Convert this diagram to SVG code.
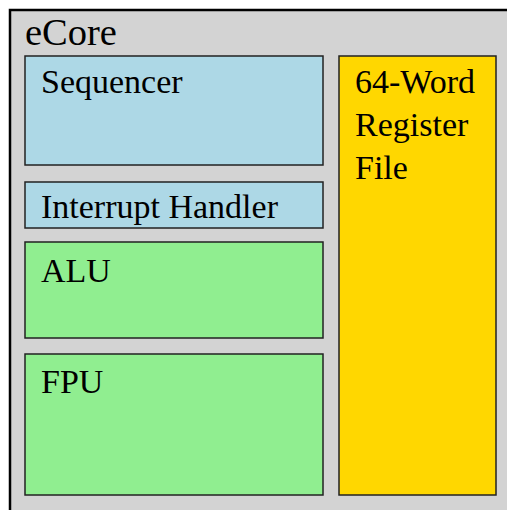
<svg xmlns="http://www.w3.org/2000/svg" width="507" height="510" viewBox="0 0 507 510">
<style>
  .box { stroke: #222; stroke-width: 1.5; }
  .t { font-family: "Liberation Serif", "Times New Roman", serif; font-size: 34px; fill: #000; }
</style>
<rect width="507" height="510" fill="#fff"/>
<g id="ecore">
  <rect x="10" y="10" width="510" height="520" fill="#d3d3d3" stroke="#000" stroke-width="2.5"/>
  <text class="t" x="25" y="45" style="font-size:38.5px">eCore</text>
</g>
<g id="sequencer">
  <rect class="box" x="25" y="56" width="298" height="109" fill="#add8e6"/>
  <text class="t" x="41" y="93">Sequencer</text>
</g>
<g id="interrupt-handler">
  <rect class="box" x="25" y="182" width="298" height="46" fill="#add8e6"/>
  <text class="t" x="41" y="218">Interrupt Handler</text>
</g>
<g id="alu">
  <rect class="box" x="25" y="242" width="298" height="96" fill="#90ee90"/>
  <text class="t" x="41" y="282">ALU</text>
</g>
<g id="fpu">
  <rect class="box" x="25" y="354" width="298" height="141" fill="#90ee90"/>
  <text class="t" x="41" y="393">FPU</text>
</g>
<g id="register-file">
  <rect class="box" x="339" y="56" width="157" height="439" fill="#ffd700"/>
  <text class="t" x="355" y="93">64-Word</text>
  <text class="t" x="355" y="136">Register</text>
  <text class="t" x="355" y="179">File</text>
</g>
<g id="connectors"></g>
</svg>
